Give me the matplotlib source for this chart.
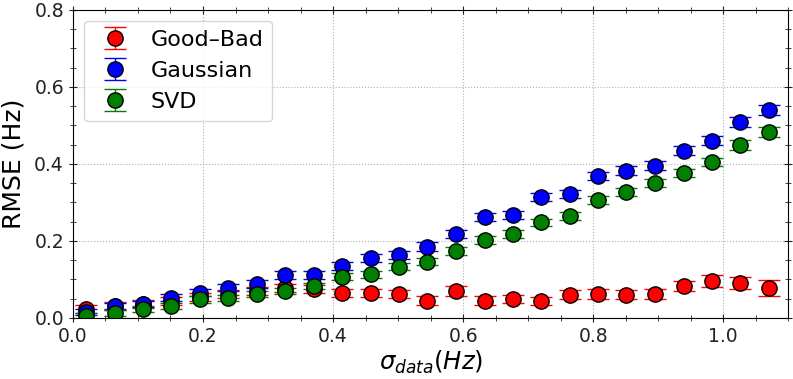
import matplotlib
matplotlib.use('Agg')
import matplotlib.pyplot as plt
from matplotlib.ticker import MultipleLocator

# sigma_data values (Hz)
sigma = [0.020, 0.064, 0.108, 0.151, 0.195, 0.239, 0.283, 0.326, 0.370,
         0.414, 0.458, 0.501, 0.545, 0.589, 0.633, 0.676, 0.720, 0.764,
         0.808, 0.851, 0.895, 0.939, 0.983, 1.026, 1.070]

rmse_goodbad = [0.023, 0.032, 0.036, 0.045, 0.055, 0.062, 0.070, 0.078, 0.075,
                0.065, 0.065, 0.062, 0.045, 0.070, 0.045, 0.049, 0.044, 0.060,
                0.062, 0.060, 0.062, 0.083, 0.096, 0.091, 0.078]
err_goodbad = [0.010, 0.010, 0.010, 0.010, 0.010, 0.010, 0.010, 0.010, 0.010,
               0.011, 0.011, 0.011, 0.011, 0.012, 0.011, 0.011, 0.011, 0.012,
               0.012, 0.012, 0.012, 0.014, 0.015, 0.016, 0.020]

rmse_gauss = [0.016, 0.031, 0.036, 0.052, 0.065, 0.078, 0.088, 0.112, 0.112,
              0.135, 0.156, 0.164, 0.185, 0.218, 0.262, 0.267, 0.314, 0.322,
              0.369, 0.382, 0.395, 0.434, 0.460, 0.509, 0.540]
err_gauss = [0.008, 0.008, 0.008, 0.009, 0.009, 0.009, 0.010, 0.010, 0.010,
             0.010, 0.010, 0.010, 0.011, 0.011, 0.011, 0.011, 0.011, 0.011,
             0.011, 0.012, 0.012, 0.012, 0.012, 0.013, 0.014]

rmse_svd = [0.005, 0.013, 0.023, 0.031, 0.048, 0.052, 0.062, 0.070, 0.083,
            0.107, 0.114, 0.133, 0.146, 0.174, 0.203, 0.218, 0.248, 0.265,
            0.306, 0.327, 0.351, 0.377, 0.405, 0.449, 0.483]
err_svd = [0.007, 0.007, 0.007, 0.008, 0.008, 0.008, 0.008, 0.008, 0.009,
           0.009, 0.009, 0.009, 0.009, 0.010, 0.010, 0.010, 0.010, 0.010,
           0.010, 0.011, 0.011, 0.011, 0.011, 0.012, 0.012]

labels = ['Good\u2013Bad', 'Gaussian', 'SVD']
colors = ['red', 'blue', 'green']

fig = plt.figure(figsize=(7.93, 3.79), dpi=100)
ax = fig.add_axes([0.092, 0.161, 0.902, 0.813])

for y, e, lab, c in zip([rmse_goodbad, rmse_gauss, rmse_svd],
                        [err_goodbad, err_gauss, err_svd], labels, colors):
    ax.errorbar(sigma, y, yerr=e, fmt='o', color=c, ecolor=c,
                markerfacecolor=c, markeredgecolor='black', markeredgewidth=1,
                markersize=11, capsize=8, elinewidth=1, label=lab)

ax.set_xlim(0, 1.1)
ax.set_ylim(0, 0.8)
ax.xaxis.set_major_locator(MultipleLocator(0.2))
ax.xaxis.set_minor_locator(MultipleLocator(0.05))
ax.yaxis.set_major_locator(MultipleLocator(0.2))
ax.yaxis.set_minor_locator(MultipleLocator(0.05))
ax.tick_params(which='both', direction='inout', top=True, right=True,
               labelsize=13.5, colors='#222222')
ax.tick_params(which='major', length=6)
ax.tick_params(which='minor', length=4)
ax.grid(True, which='major', linestyle=':', color='#b0b0b0', linewidth=0.8)
ax.set_axisbelow(True)

ax.set_xlabel(r'$\sigma_{data}(Hz)$', fontsize=17.5, labelpad=2)
ax.set_ylabel('RMSE (Hz)', fontsize=18, labelpad=6)
ax.legend(loc='upper left', fontsize=16, borderpad=0.4, handletextpad=0.6,
          labelspacing=0.5, borderaxespad=0.5)

fig.savefig('out.png', dpi=100)
